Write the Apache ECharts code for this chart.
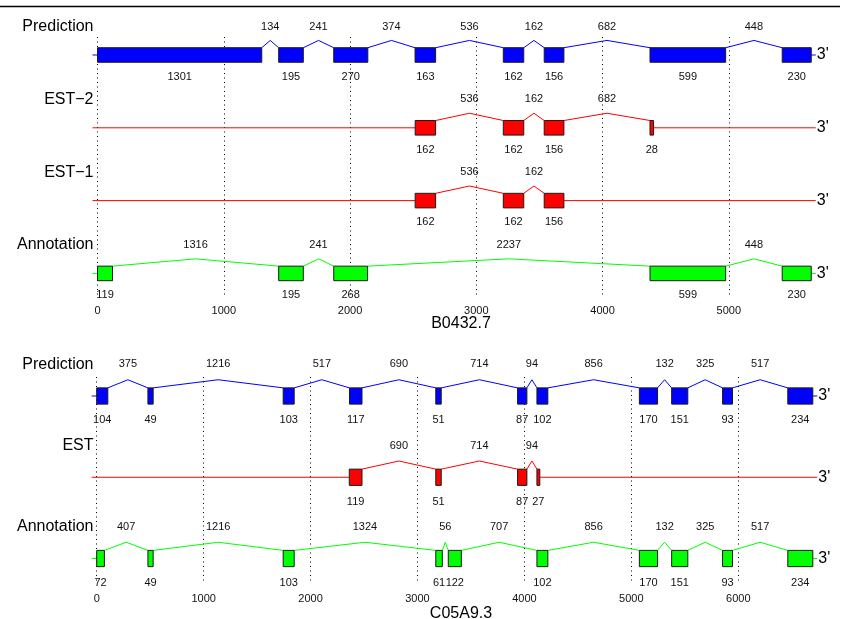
<!DOCTYPE html>
<html>
<head>
<meta charset="utf-8">
<script src="https://cdn.jsdelivr.net/npm/echarts@6/dist/echarts.min.js"></script>
<style>
  html, body { margin: 0; padding: 0; background: #ffffff; }
  #chart { width: 844px; height: 619px; }
</style>
</head>
<body>
<div id="chart"></div>
<script>
// ---- B0432.7 : exon / intron lengths (bp) per track ----
const predB_exons   = [1301, 195, 270, 163, 162, 156, 599, 230];
const predB_introns = [134, 241, 374, 536, 162, 682, 448];
const est2B_exons   = [162, 162, 156, 28];
const est2B_introns = [536, 162, 682];
const est1B_exons   = [162, 162, 156];
const est1B_introns = [536, 162];
const annB_exons    = [119, 195, 268, 599, 230];
const annB_introns  = [1316, 241, 2237, 448];
const estB_start    = 2516;   // first EST exon start
const geneB_end     = 5653;   // 3' end of the gene model
const axisMaxB      = 5702;

// ---- C05A9.3 ----
const predC_exons   = [104, 49, 103, 117, 51, 87, 102, 170, 151, 93, 234];
const predC_introns = [375, 1216, 517, 690, 714, 94, 856, 132, 325, 517];
const estC_exons    = [119, 51, 87, 27];
const estC_introns  = [690, 714, 94];
const annC_exons    = [72, 49, 103, 61, 122, 102, 170, 151, 93, 234];
const annC_introns  = [407, 1216, 1324, 56, 707, 856, 132, 325, 517];
const estC_start    = 2362;
const geneC_end     = 6697;
const axisMaxC      = 6733;

const panelNames = ['B0432.7', 'C05A9.3'];
const tickStep = 1000;

const BLUE = '#0000ff', RED = '#ff0000', GREEN = '#00ff00';
const FONT = '"Liberation Sans", Arial, Helvetica, sans-serif';

const panels = [
  {
    end: geneB_end,
    tracks: [
      { label: 'Prediction', start: 0, exons: predB_exons, introns: predB_introns, color: BLUE },
      { label: 'EST\u22122', start: estB_start, exons: est2B_exons, introns: est2B_introns, color: RED },
      { label: 'EST\u22121', start: estB_start, exons: est1B_exons, introns: est1B_introns, color: RED },
      { label: 'Annotation', start: 0, exons: annB_exons, introns: annB_introns, color: GREEN }
    ]
  },
  {
    end: geneC_end,
    tracks: [
      { label: 'Prediction', start: 0, exons: predC_exons, introns: predC_introns, color: BLUE },
      { label: 'EST', start: estC_start, exons: estC_exons, introns: estC_introns, color: RED },
      { label: 'Annotation', start: 0, exons: annC_exons, introns: annC_introns, color: GREEN }
    ]
  }
];

function smallText(x, y, str, align) {
  return {
    type: 'text',
    style: {
      x: x, y: y, text: String(str), fill: '#111',
      font: '11px ' + FONT, align: align || 'center', verticalAlign: 'middle'
    }
  };
}

function bigText(x, y, str, align) {
  return {
    type: 'text',
    style: {
      x: x, y: y, text: str, fill: '#000',
      font: '16px ' + FONT, align: align, verticalAlign: 'middle'
    }
  };
}

function makeRender(panel) {
  return function (params, api) {
    const row = api.value(1);
    const t = panel.tracks[row];
    const unit = api.size([0, 1])[1];          // pixels per track row
    const yc = api.coord([0, row])[1];
    const X = v => api.coord([v, row])[0];
    const half = unit * 0.1;
    const top = yc - half;
    const peak = yc - 2 * half;
    const labelUp = yc - 0.39 * unit;
    const labelDown = yc + 0.3 * unit;

    // exon intervals from lengths
    const iv = [];
    let pos = t.start;
    t.exons.forEach((len, i) => {
      iv.push([pos, pos + len]);
      pos += len + (i < t.introns.length ? t.introns[i] : 0);
    });

    const xStart = X(0) - 5;
    const xEnd = X(panel.end) + 4.5;
    const lineStyle = { stroke: t.color, lineWidth: 1, fill: null };
    const children = [];

    // backbone before first and after last exon
    children.push({ type: 'line', shape: { x1: xStart, y1: yc, x2: X(iv[0][0]), y2: yc }, style: lineStyle });
    children.push({ type: 'line', shape: { x1: X(iv[iv.length - 1][1]), y1: yc, x2: xEnd, y2: yc }, style: lineStyle });

    // introns: chevrons with length above
    for (let i = 0; i < iv.length - 1; i++) {
      const a = iv[i][1], b = iv[i + 1][0], m = (a + b) / 2;
      children.push({
        type: 'polyline',
        shape: { points: [[X(a), top], [X(m), peak], [X(b), top]] },
        style: lineStyle
      });
      children.push(smallText(X(m), labelUp, t.introns[i]));
    }

    // exons: boxes with length below
    iv.forEach((e, i) => {
      const x0 = X(e[0]), x1 = X(e[1]);
      children.push({
        type: 'rect',
        shape: { x: x0, y: top, width: x1 - x0, height: 2 * half },
        style: { fill: t.color, stroke: '#1a1a1a', lineWidth: 1 }
      });
      children.push(smallText((x0 + x1) / 2, labelDown, t.exons[i]));
    });

    children.push(bigText(93.5, labelUp, t.label, 'right'));
    children.push(bigText(xEnd + 1, yc, "3'", 'left'));

    return { type: 'group', children: children };
  };
}

const chart = echarts.init(document.getElementById('chart'), null, { renderer: 'canvas' });

const axisMax = [axisMaxB, axisMaxC];

const option = {
  animation: false,
  backgroundColor: '#ffffff',
  title: [
    { text: panelNames[0], left: 456, top: 311, textAlign: 'center',
      textStyle: { fontFamily: FONT, fontSize: 16, fontWeight: 'normal', color: '#000' } },
    { text: panelNames[1], left: 456, top: 601, textAlign: 'center',
      textStyle: { fontFamily: FONT, fontSize: 16, fontWeight: 'normal', color: '#000' } }
  ],
  grid: [
    { left: 97.5, top: 37, width: axisMaxB * 0.12626, height: 260 },
    { left: 96.7, top: 377, width: axisMaxC * 0.10693, height: 205 }
  ],
  xAxis: [0, 1].map(i => ({
    type: 'value', gridIndex: i, min: 0, max: axisMax[i], interval: tickStep,
    axisLine: { show: false }, axisTick: { show: false },
    axisLabel: {
      fontSize: 11, fontFamily: FONT, color: '#111', margin: i === 0 ? 8 : 11,
      showMaxLabel: false, formatter: v => String(v)
    },
    splitLine: { show: true, showMaxLine: false, lineStyle: { color: '#000', width: 1, type: [1, 3.5] } }
  })),
  yAxis: [
    { type: 'value', gridIndex: 0, inverse: true, min: -0.2472, max: 3.324, show: false, splitLine: { show: false } },
    { type: 'value', gridIndex: 1, inverse: true, min: -0.2338, max: 2.289, show: false, splitLine: { show: false } }
  ],
  series: panels.map((p, i) => ({
    type: 'custom',
    xAxisIndex: i, yAxisIndex: i,
    clip: false, silent: true,
    encode: { x: 0, y: 1 },
    data: p.tracks.map((t, r) => [0, r]),
    renderItem: makeRender(p)
  })),
  graphic: [
    { type: 'line', shape: { x1: 0, y1: 6.5, x2: 840, y2: 6.5 }, style: { stroke: '#000', lineWidth: 1.5 } },
    { type: 'text', left: 335, top: -21,
      style: { text: 'Exon structure of two predicted C. elegans loci', font: '18px "Liberation Serif", "Times New Roman", serif', fill: '#000' } }
  ]
};

chart.setOption(option);
</script>
</body>
</html>
